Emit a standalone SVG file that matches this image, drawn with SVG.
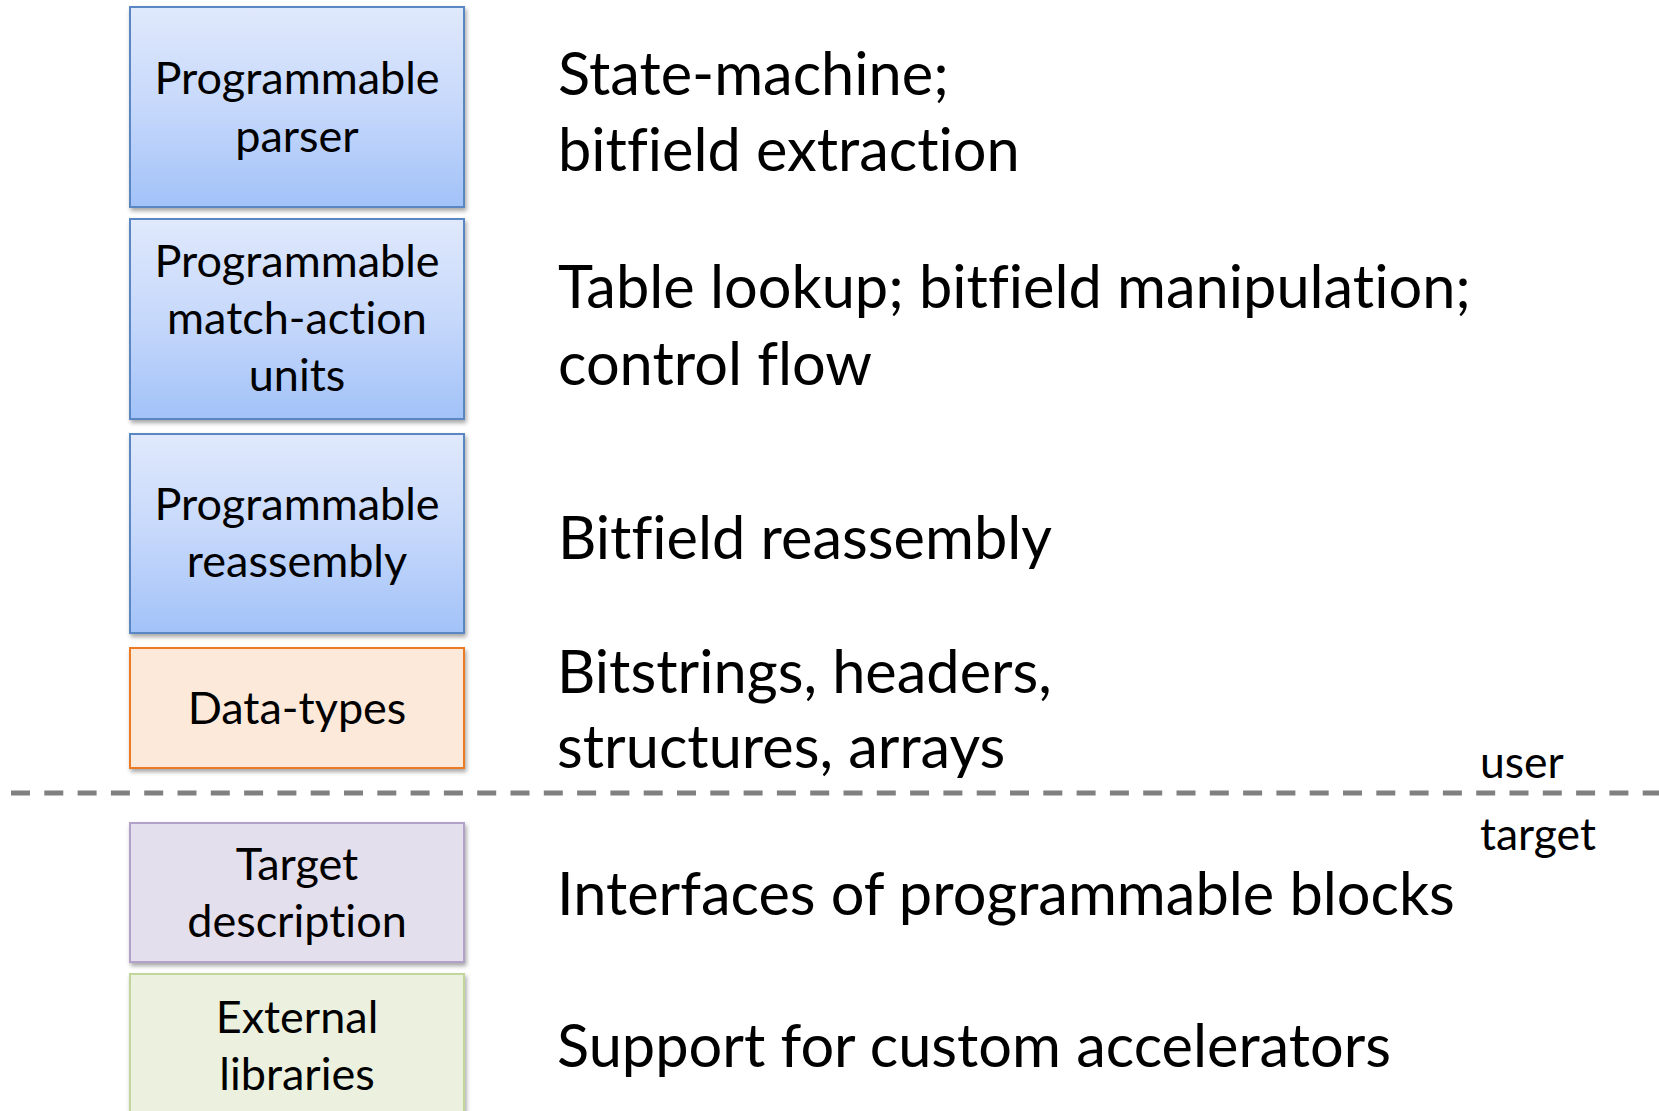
<svg xmlns="http://www.w3.org/2000/svg" width="1659" height="1111" viewBox="0 0 1659 1111">
  <style>
    text { font-variant-ligatures: none; }
    .box-text { font-family: Lato, "Open Sans", sans-serif; font-size: 45px; fill: #000; text-anchor: middle; }
    .desc { font-family: Lato, "Open Sans", sans-serif; font-size: 59.5px; fill: #000; }
    .tag { font-family: Lato, "Open Sans", sans-serif; font-size: 44.5px; fill: #000; }
    .blue { fill: url(#blueGrad); stroke: #5a86c2; stroke-width: 2; }
    .orange { fill: #fde9da; stroke: #ec7a23; stroke-width: 2; }
    .purple { fill: #e4dfec; stroke: #b2a1c8; stroke-width: 2; }
    .green { fill: #ebf1de; stroke: #c2d69b; stroke-width: 2; }
  </style>
  <defs>
    <linearGradient id="blueGrad" x1="0" y1="0" x2="0" y2="1">
      <stop offset="0" stop-color="#e0e9fc"/>
      <stop offset="0.5" stop-color="#c6d8fb"/>
      <stop offset="1" stop-color="#a2c2f8"/>
    </linearGradient>
    <filter id="shadow" x="-5%" y="-5%" width="115%" height="120%">
      <feDropShadow dx="1.5" dy="3" stdDeviation="2" flood-color="#000" flood-opacity="0.35"/>
    </filter>
  </defs>

  <rect width="1659" height="1111" fill="#ffffff"/>

  <!-- user / target separator -->
  <g id="connectors">
    <line x1="11" y1="793" x2="1659" y2="793" stroke="#808080" stroke-width="5" stroke-dasharray="19 14.3"/>
  </g>

  <g id="parser">
    <rect class="blue" x="130" y="7" width="334" height="200" filter="url(#shadow)"/>
    <text class="box-text" x="297" y="94">Programmable</text>
    <text class="box-text" x="297" y="152">parser</text>
  </g>

  <g id="match-action">
    <rect class="blue" x="130" y="219" width="334" height="200" filter="url(#shadow)"/>
    <text class="box-text" x="297" y="277">Programmable</text>
    <text class="box-text" x="297" y="334">match-action</text>
    <text class="box-text" x="297" y="391">units</text>
  </g>

  <g id="reassembly">
    <rect class="blue" x="130" y="434" width="334" height="199" filter="url(#shadow)"/>
    <text class="box-text" x="297" y="520">Programmable</text>
    <text class="box-text" x="297" y="577">reassembly</text>
  </g>

  <g id="data-types">
    <rect class="orange" x="130" y="648" width="334" height="120" filter="url(#shadow)"/>
    <text class="box-text" x="297" y="724">Data-types</text>
  </g>

  <g id="target-description">
    <rect class="purple" x="130" y="823" width="334" height="139" filter="url(#shadow)"/>
    <text class="box-text" x="297" y="880">Target</text>
    <text class="box-text" x="297" y="937">description</text>
  </g>

  <g id="external-libraries">
    <rect class="green" x="130" y="974" width="334" height="150" filter="url(#shadow)"/>
    <text class="box-text" x="297" y="1033">External</text>
    <text class="box-text" x="297" y="1090">libraries</text>
  </g>

  <!-- descriptions -->
  <g id="descriptions">
    <text class="desc" x="558" y="95">State-machine;</text>
    <text class="desc" x="558" y="171">bitfield extraction</text>
    <text class="desc" x="558" y="308">Table lookup; bitfield manipulation;</text>
    <text class="desc" x="558" y="385">control flow</text>
    <text class="desc" x="558" y="559">Bitfield reassembly</text>
    <text class="desc" x="557" y="693">Bitstrings, headers,</text>
    <text class="desc" x="557" y="768">structures, arrays</text>
    <text class="desc" x="557" y="915">Interfaces of programmable blocks</text>
    <text class="desc" x="557" y="1067">Support for custom accelerators</text>
  </g>

  <g id="labels">
    <text class="tag" x="1480" y="778">user</text>
    <text class="tag" x="1480" y="850">target</text>
  </g>
</svg>
